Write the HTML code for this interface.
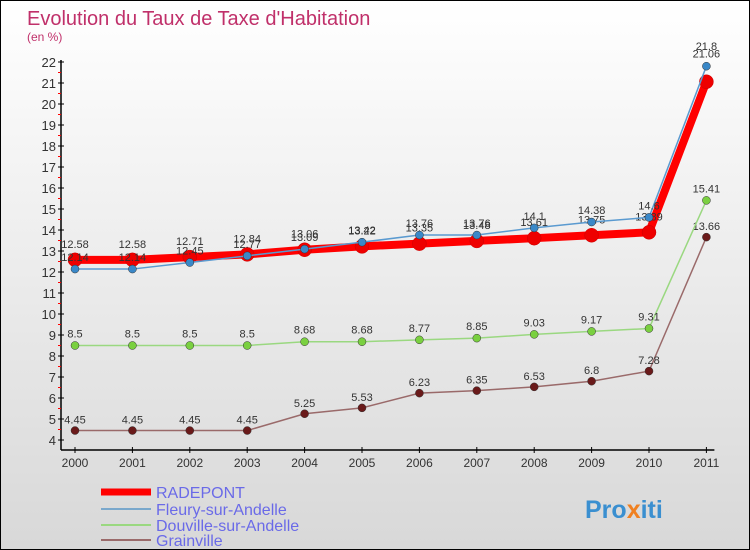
<!DOCTYPE html>
<html><head><meta charset="utf-8"><style>
body{margin:0;}
#wrap{width:748px;height:548px;border:1px solid #000;background:linear-gradient(#fff,#d8d8d8);position:relative;overflow:hidden;font-family:"Liberation Sans",sans-serif;}
</style></head><body>
<div id="wrap">
<svg id="c" width="748" height="548" xmlns="http://www.w3.org/2000/svg">
<text x="26" y="24" font-size="20" fill="#c0306a">Evolution du Taux de Taxe d'Habitation</text>
<text x="26" y="40" font-size="12" fill="#c0306a">(en %)</text>
<g id="axes"></g><g id="series"></g><g id="legend"></g>
<text x="584" y="517" font-size="25" font-weight="bold" fill="#3a8fd0">Pro<tspan fill="#f08020">x</tspan>iti</text>
</svg></div>
<script>
const years=[2000,2001,2002,2003,2004,2005,2006,2007,2008,2009,2010,2011];
const radepont=[12.58,12.58,12.71,12.84,13.06,13.22,13.35,13.48,13.61,13.75,13.89,21.06];
const fleury=[12.14,12.14,12.45,12.77,13.09,13.42,13.76,13.76,14.1,14.38,14.6,21.8];
const douville=[8.5,8.5,8.5,8.5,8.68,8.68,8.77,8.85,9.03,9.17,9.31,15.41];
const grainville=[4.45,4.45,4.45,4.45,5.25,5.53,6.23,6.35,6.53,6.8,7.28,13.66];
const yTicks=[4,5,6,7,8,9,10,11,12,13,14,15,16,17,18,19,20,21,22];
const names=["RADEPONT","Fleury-sur-Andelle","Douville-sur-Andelle","Grainville"];
const NS="http://www.w3.org/2000/svg";
const X=i=>74+i*57.4, Y=v=>439-(v-4)*21;
function mk(p,t,a){const e=document.createElementNS(NS,t);for(const k in a)e.setAttribute(k,a[k]);p.appendChild(e);return e;}
const ax=document.getElementById('axes');
let l=mk(ax,'line',{x1:60,y1:Y(22)-2,x2:60,y2:449,stroke:'#000','stroke-width':1.5});


l=mk(ax,'line',{x1:60,y1:449,x2:X(11)+8,y2:449,stroke:'#000','stroke-width':1.5});


yTicks.forEach(v=>{
 mk(ax,'line',{x1:57,y1:Y(v),x2:63,y2:Y(v),stroke:'#000'});
 if(v<22) mk(ax,'line',{x1:57,y1:Y(v+0.5),x2:60,y2:Y(v+0.5),stroke:'#f00'});
 const t=mk(ax,'text',{x:55,y:Y(v)+5,'text-anchor':'end','font-size':13,fill:'#333'});
 t.textContent=v;
 
 
});
years.forEach((y,i)=>{
 mk(ax,'line',{x1:X(i),y1:446,x2:X(i),y2:452,stroke:'#000'});
 const t=mk(ax,'text',{x:X(i),y:466,'text-anchor':'middle','font-size':12,fill:'#333'});
 t.textContent=y;
 
 
});
const sg=document.getElementById('series');
const defs=[[grainville,'#9a6a6a','#6a1a1a',1.5,4,'grainville',8],[douville,'#9ad880','#7ad040',1.5,4,'douville',-8],[radepont,'#f00','#e00',8,7,'radepont',-12],[fleury,'#5a9ad0','#3a88c8',1.5,4,'fleury',-8]];
defs.forEach(([d,lc,pc,w,r,n,off])=>{
 const g=mk(sg,'g',{});
 
 
 const p=mk(g,'polyline',{points:d.map((v,i)=>X(i)+','+Y(v)).join(' '),fill:'none',stroke:lc,'stroke-width':w});
 
 
 d.forEach((v,i)=>{
  const c=mk(g,'circle',{cx:X(i),cy:Y(v),r:r,fill:pc,stroke:n=='radepont'?'#c00':'#333','stroke-width':0.5});
  
  
  const t=mk(g,'text',{x:X(i),y:Y(v)+(n=='grainville'?-7:off)+(n=='radepont'&&i==11?-12:0)+(n=='fleury'&&i==11?-8:0),'text-anchor':'middle','font-size':11,fill:'#333'});
  t.textContent=v;
  
  
 });
});
const lg=document.getElementById('legend');
const lcols=['#f00','#7aa8cc','#9ad880','#9a6a6a'], lw=[7,2,2,2], ly=[491,508,524,539];
names.forEach((n,i)=>{
 const g=mk(lg,'g',{});
 
 
 mk(g,'line',{x1:100,y1:ly[i],x2:150,y2:ly[i],stroke:lcols[i],'stroke-width':lw[i]});
 const t=mk(g,'text',{x:155,y:ly[i]+6,'font-size':16,fill:'#6a6ae8'});
 t.textContent=n;
});
</script>
</body></html>
